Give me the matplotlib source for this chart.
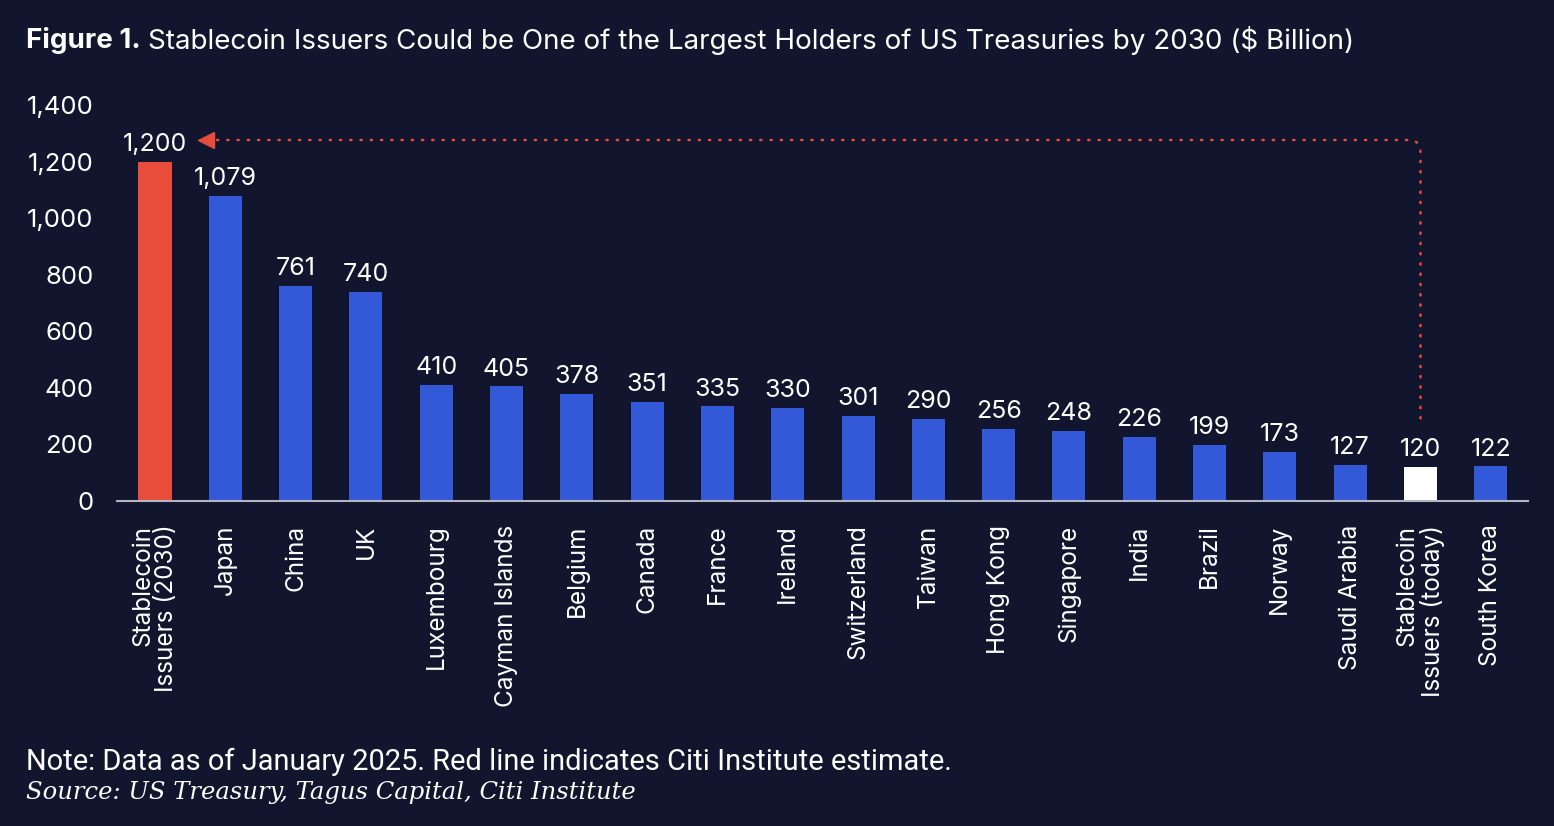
import matplotlib.pyplot as plt
import numpy as np

# Style constants
BG_COLOR = '#11162e'
BLUE = '#3359d8'
RED = '#e84c3a'
WHITE = '#ffffff'
AXIS_COLOR = '#b3b6c2'
TEXT_COLOR = '#ffffff'
SANS = ['Inter', 'DejaVu Sans']

# Data
categories = [
    'Stablecoin\nIssuers (2030)', 'Japan', 'China', 'UK', 'Luxembourg',
    'Cayman Islands', 'Belgium', 'Canada', 'France', 'Ireland', 'Switzerland',
    'Taiwan', 'Hong Kong', 'Singapore', 'India', 'Brazil', 'Norway',
    'Saudi Arabia', 'Stablecoin\nIssuers (today)', 'South Korea',
]
values = [1200, 1079, 761, 740, 410, 405, 378, 351, 335, 330, 301,
          290, 256, 248, 226, 199, 173, 127, 120, 122]
yticks = [0, 200, 400, 600, 800, 1000, 1200, 1400]

colors = [BLUE] * len(values)
colors[0] = RED
colors[18] = WHITE

fig = plt.figure(figsize=(15.54, 8.26), dpi=100)
fig.patch.set_facecolor(BG_COLOR)
ax = fig.add_axes([0.0753, 0.3935, 0.908, 0.4794])
ax.set_facecolor(BG_COLOR)

x = np.arange(len(values))
ax.bar(x, values, width=0.47, color=colors, zorder=2)

# Value labels
for xi, v in zip(x, values):
    ax.annotate(f'{v:,}', (xi, v), xytext=(0, 4), textcoords='offset points',
                ha='center', va='bottom', color=TEXT_COLOR, fontsize=18,
                family=SANS)

# Axes
ax.set_xlim(-0.54, len(values) - 0.47)
ax.set_ylim(0, 1400)
ax.set_yticks(yticks)
ax.set_yticklabels([f'{t:,}' for t in yticks])
ax.set_xticks(x)
ax.set_xticklabels(categories, rotation=90, ha='center', va='top',
                   multialignment='right', linespacing=1.05)
for lab in ax.get_xticklabels() + ax.get_yticklabels():
    lab.set_family(SANS)
    lab.set_color(TEXT_COLOR)
ax.tick_params(axis='y', length=0, pad=17, labelsize=18.5)
ax.tick_params(axis='x', length=0, pad=17, labelsize=17.5)
for s in ['left', 'right', 'top']:
    ax.spines[s].set_visible(False)
ax.spines['bottom'].set_color(AXIS_COLOR)
ax.spines['bottom'].set_linewidth(1.5)

# Dotted connector from today's stablecoin holdings to the 2030 estimate
y_line = 1276
ax.annotate('', xy=(0.76, y_line), xytext=(18, 292),
            arrowprops=dict(arrowstyle='-', color=RED, lw=1.8,
                            linestyle=(0, (0.5, 3.6)), capstyle='round',
                            shrinkA=0, shrinkB=0,
                            connectionstyle='angle,angleA=90,angleB=0,rad=12'))
ax.plot([0.72], [y_line], marker='<', ms=12, color=RED, mec=RED,
        linestyle='none', clip_on=False)

# Title, note and source
t1 = fig.text(0.017, 0.951, 'Figure 1.', fontsize=20, fontweight='bold',
              color=TEXT_COLOR, family=SANS, va='center')
renderer = fig.canvas.get_renderer()
bb = t1.get_window_extent(renderer)
fig.text((bb.x1 + 7) / fig.bbox.width, 0.951,
         'Stablecoin Issuers Could be One of the Largest Holders of US Treasuries by 2030 ($ Billion)',
         fontsize=20, color=TEXT_COLOR, family=SANS, va='center')
fig.text(0.017, 0.078,
         'Note: Data as of January 2025. Red line indicates Citi Institute estimate.',
         fontsize=20.9, color=TEXT_COLOR,
         family=['Roboto', 'DejaVu Sans'], va='center')
fig.text(0.017, 0.040, 'Source: US Treasury, Tagus Capital, Citi Institute',
         fontsize=17.5, color=TEXT_COLOR, style='italic',
         family=['DejaVu Serif'], va='center')

fig.savefig('out.png', dpi=100, facecolor=fig.get_facecolor())
